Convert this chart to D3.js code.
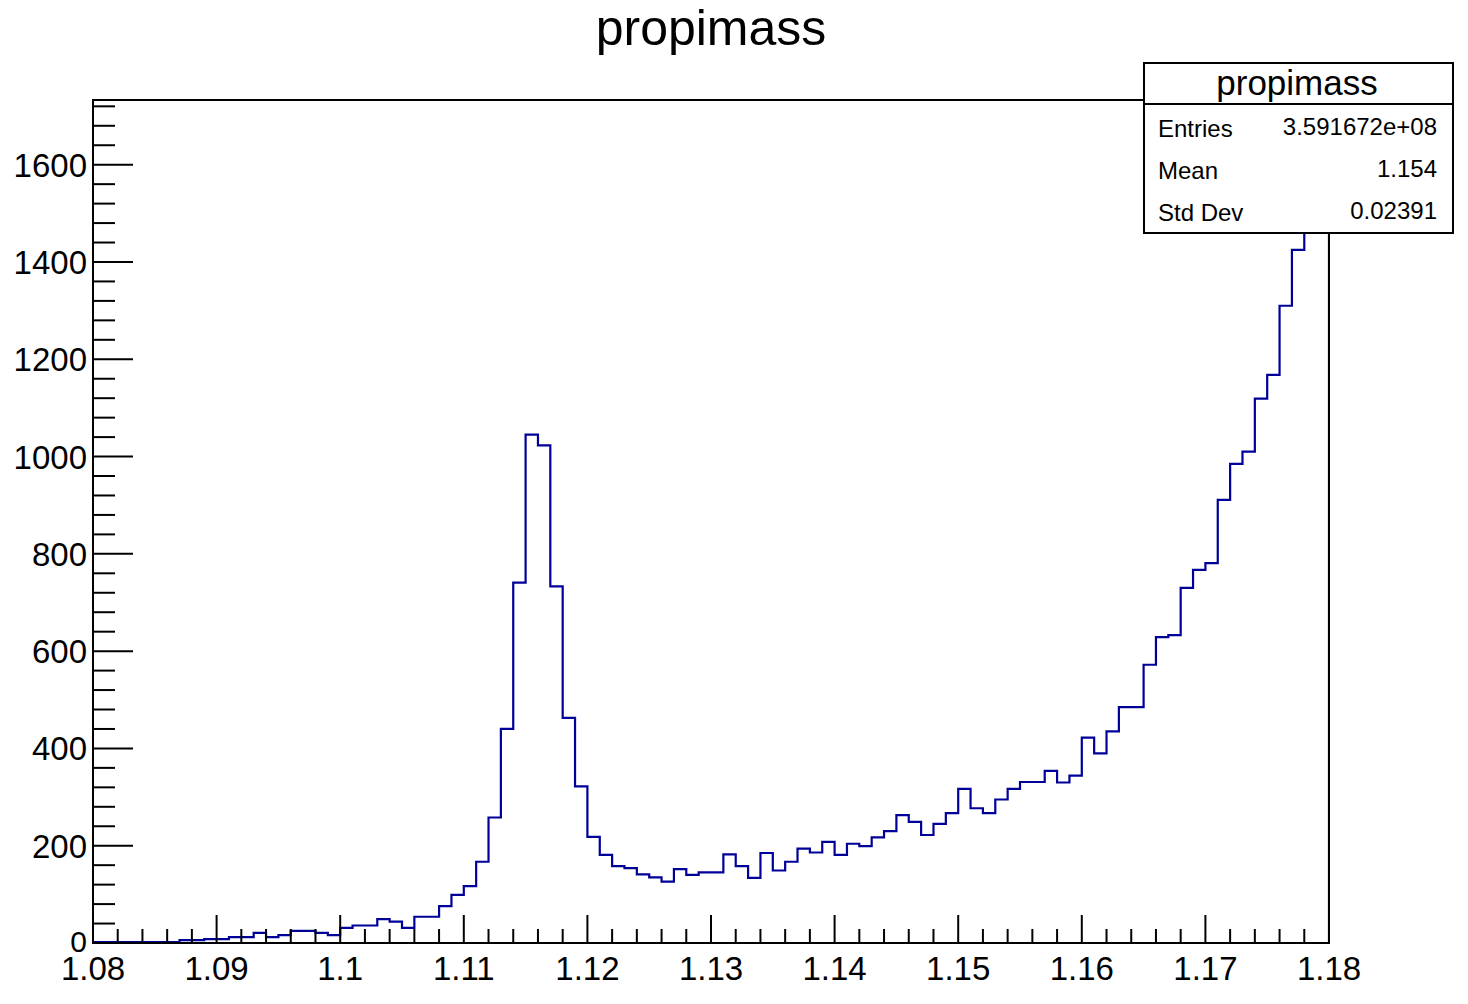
<!DOCTYPE html>
<html><head><meta charset="utf-8">
<script src="https://cdn.jsdelivr.net/npm/d3@7"></script>
<style>body{margin:0;background:#fff}svg{display:block}text{font-family:"Liberation Sans",Arial,sans-serif}</style>
</head><body>
<script>
const binLow = 1.08, binWidth = 0.001;
const counts = [2,2,2,2,2,2,2,6,6,8,8,12,12,21,12,16,25,25,21,16,
31,36,36,49,44,31,54,54,76,99,117,167,258,440,741,1045,1023,733,463,322,
218,181,158,154,141,135,126,152,140,145,145,182,158,134,185,149,167,194,186,208,
181,204,199,217,230,263,249,222,245,267,317,277,267,295,317,331,331,354,330,344,
422,390,435,485,485,572,629,633,730,767,781,911,985,1010,1119,1168,1310,1425,1530,1650];
const xTicks = [1.08,1.09,1.1,1.11,1.12,1.13,1.14,1.15,1.16,1.17,1.18];
const yTicks = [0,200,400,600,800,1000,1200,1400,1600];
const statsLabels = ["Entries","Mean","Std Dev"];
const statsValues = ["3.591672e+08","1.154","0.02391"];

const W=1468,H=1004, L=93,R=1329,T=100,B=943;
const svg=d3.select("body").append("svg").attr("width",W).attr("height",H);
const x=d3.scaleLinear().domain([1.08,1.18]).range([L,R]);
const y=d3.scaleLinear().domain([0,1733]).range([B,T]);

const pts=[[binLow,0]];
counts.forEach((c,i)=>{const a=binLow+i*binWidth;pts.push([a,c],[a+binWidth,c]);});
pts.push([binLow+counts.length*binWidth,0]);
svg.append("clipPath").attr("id","c").append("rect").attr("x",L).attr("y",T).attr("width",R-L).attr("height",B-T);
svg.append("path").attr("clip-path","url(#c)").attr("d",d3.line().x(d=>x(d[0])).y(d=>y(d[1]))(pts))
 .attr("fill","none").attr("stroke","#000099").attr("stroke-width",2.2);

svg.append("rect").attr("x",L).attr("y",T).attr("width",R-L).attr("height",B-T).attr("fill","none").attr("stroke","#000").attr("stroke-width",2);

const g=svg.append("g").attr("stroke","#000").attr("stroke-width",2);
for(let k=0;k<=50;k++){const v=1.08+k*0.002;const major=k%5===0;
 g.append("line").attr("x1",x(v)).attr("x2",x(v)).attr("y1",B).attr("y2",B-(major?28:14));}
for(let k=0;k*40<=1733;k++){const v=k*40;const major=k%5===0;
 g.append("line").attr("x1",L).attr("x2",L+(major?40:22)).attr("y1",y(v)).attr("y2",y(v));}
svg.selectAll(".xl").data(xTicks).join("text").attr("x",d=>x(d)).attr("y",B+37).attr("text-anchor","middle")
 .attr("font-size",33).text(d=>+d.toFixed(2));
svg.selectAll(".yl").data(yTicks).join("text").attr("x",L-6).attr("y",d=>y(d)+(d===0?9:12)).attr("text-anchor","end")
 .attr("font-size",d=>d===0?30:33).text(d=>d);

svg.append("text").attr("x",711).attr("y",45).attr("text-anchor","middle").attr("font-size",50).text("propimass");

const sb=svg.append("g");
sb.append("rect").attr("x",1144).attr("y",63).attr("width",309).attr("height",170).attr("fill","#fff").attr("stroke","#000").attr("stroke-width",2);
sb.append("line").attr("x1",1144).attr("x2",1453).attr("y1",104).attr("y2",104).attr("stroke","#000").attr("stroke-width",2);
sb.append("text").attr("x",1297).attr("y",95).attr("text-anchor","middle").attr("font-size",35).text("propimass");
statsLabels.forEach((s,i)=>{
 sb.append("text").attr("x",1158).attr("y",137+i*42).attr("font-size",24).text(s);
 sb.append("text").attr("x",1437).attr("y",135+i*42).attr("text-anchor","end").attr("font-size",24).text(statsValues[i]);
});
</script>
</body></html>
